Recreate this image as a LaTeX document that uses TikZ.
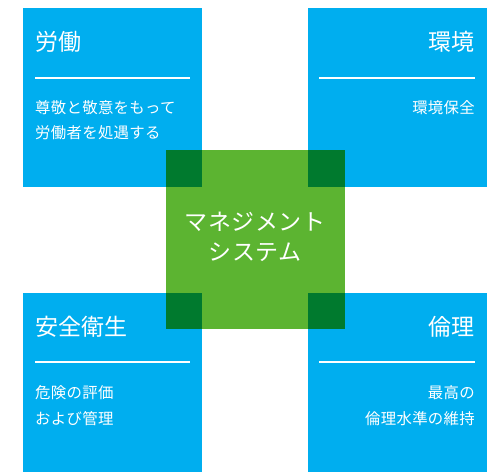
\documentclass[tikz,border=0pt]{standalone}
\usepackage{fontspec}
\setmainfont{Noto Sans CJK JP}
\definecolor{cblue}{HTML}{00AEEF}
\definecolor{cgreen}{HTML}{5CB431}
\definecolor{cdark}{HTML}{007A2E}
\begin{document}
\begin{tikzpicture}[x=1pt,y=-1pt,
  bluebox/.style={fill=cblue,draw=none,minimum width=179pt,minimum height=179pt,inner sep=0,anchor=north west},
  greenbox/.style={fill=cgreen,draw=none,minimum width=179pt,minimum height=179pt,inner sep=0,anchor=north west},
  title/.style={text=white,inner sep=0,font=\fontsize{23}{26}\selectfont\addfontfeatures{LetterSpace=1}},
  body/.style={text=white,inner sep=0,font=\fontsize{15.4}{26}\selectfont\addfontfeatures{LetterSpace=2}},
  rule/.style={draw=white,line width=1.3pt},
  center/.style={text=white,inner sep=0,align=center,font=\fontsize{23}{30}\selectfont\addfontfeatures{LetterSpace=2}}]
\useasboundingbox (0,0) rectangle (503,471);
\node[bluebox] (labor) at (23,8) {};
\node[bluebox] (env) at (308,8) {};
\node[bluebox] (safety) at (23,293) {};
\node[bluebox] (ethics) at (308,293) {};
\node[greenbox] (ms) at (166,150) {};
\fill[cdark] (ms.north west) rectangle (labor.south east);
\fill[cdark] (ms.north east) rectangle (env.south west);
\fill[cdark] (ms.south west) rectangle (safety.north east);
\fill[cdark] (ms.south east) rectangle (ethics.north west);
\node[center] (mst) at (255,237) {マネジメント\\システム};
% labor
\node[title,anchor=west] (t1) at (35,42) {労働};
\coordinate (l1a) at (35,78); \coordinate (l1b) at (190,78);
\draw[rule] (l1a) -- (l1b);
\node[body,anchor=west] (b1a) at (35,108) {尊敬と敬意をもって};
\node[body,anchor=west] (b1b) at (35,133) {労働者を処遇する};
% env
\node[title,anchor=east] (t2) at (475,42) {環境};
\coordinate (l2a) at (319,78); \coordinate (l2b) at (475,78);
\draw[rule] (l2a) -- (l2b);
\node[body,anchor=east] (b2a) at (475,108) {環境保全};
% safety
\node[title,anchor=west] (t3) at (35,327) {安全衛生};
\coordinate (l3a) at (35,362); \coordinate (l3b) at (190,362);
\draw[rule] (l3a) -- (l3b);
\node[body,anchor=west] (b3a) at (35,393) {危険の評価};
\node[body,anchor=west] (b3b) at (35,419) {および管理};
% ethics
\node[title,anchor=east] (t4) at (475,327) {倫理};
\coordinate (l4a) at (319,362); \coordinate (l4b) at (475,362);
\draw[rule] (l4a) -- (l4b);
\node[body,anchor=east] (b4a) at (475,393) {最高の};
\node[body,anchor=east] (b4b) at (475,419) {倫理水準の維持};
\end{tikzpicture}
\end{document}
